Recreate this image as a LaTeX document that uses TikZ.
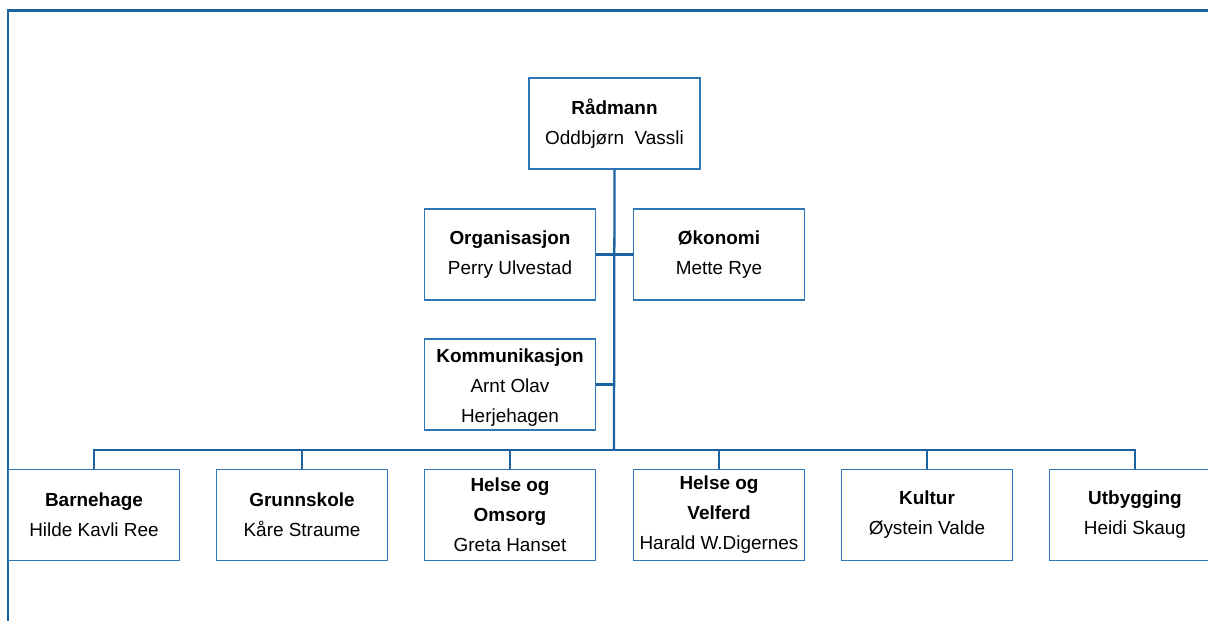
\documentclass[tikz,border=0pt]{standalone}
\usepackage{fontspec}
\setmainfont{Liberation Sans}
\definecolor{boxblue}{RGB}{46,117,182}
\definecolor{lineblue}{RGB}{28,98,160}
\tikzset{
  unit/.style={draw=boxblue, line width=1.2pt, fill=white, minimum width=128pt,
    minimum height=68pt, inner sep=2pt, align=center,
    font=\fontsize{14.2}{22.5}\selectfont},
  link/.style={draw=lineblue, line width=1.7pt}
}
\begin{document}
\begin{tikzpicture}[x=0.75pt, y=-0.75pt]
      \useasboundingbox (0,0) rectangle (1208,621) ;
      % frame
      \draw[lineblue, line width=1.8pt] (8,621)--(8,10.5)--(1208,10.5) ;
      % top of the tree
      \node[unit] (radmann) at (614.5,123.5) {\textbf{Rådmann}\\Oddbjørn\ \ Vassli} ;
      \node[unit] (organisasjon) at (510,254.5) {\textbf{Organisasjon}\\Perry Ulvestad} ;
      \node[unit] (okonomi) at (719,254.5) {\textbf{Økonomi}\\Mette Rye} ;
      \node[unit] (kommunikasjon) at (510,384.5)
        {\rule{0pt}{15pt}\textbf{Kommunikasjon}\\Arnt Olav\\Herjehagen} ;
      % units
      \node[unit] (barnehage) at (94,515) {\textbf{Barnehage}\\Hilde Kavli Ree} ;
      \node[unit] (grunnskole) at (302,515) {\textbf{Grunnskole}\\Kåre Straume} ;
      \node[unit] (omsorg) at (510,515) {\textbf{Helse og}\\\textbf{Omsorg}\\Greta Hanset} ;
      \node[unit] (velferd) at (719,515) {\textbf{Helse og}\\\textbf{Velferd}\\Harald W.Digernes} ;
      \node[unit] (kultur) at (927,515) {\textbf{Kultur}\\Øystein Valde} ;
      \node[unit] (utbygging) at (1135,515) {\textbf{Utbygging}\\Heidi Skaug} ;
      \coordinate (bus) at (614,450) ;
      \draw[link] (radmann.south) -- (bus) ;
      \draw[link] (organisasjon.east) -- (okonomi.west) ;
      \draw[link] (kommunikasjon.east) -- (kommunikasjon.east -| bus) ;
      \foreach \u in {barnehage,grunnskole,omsorg,velferd,kultur,utbygging}
        \draw[link] (\u.north) |- (bus) ;
    \end{tikzpicture}
\end{document}
